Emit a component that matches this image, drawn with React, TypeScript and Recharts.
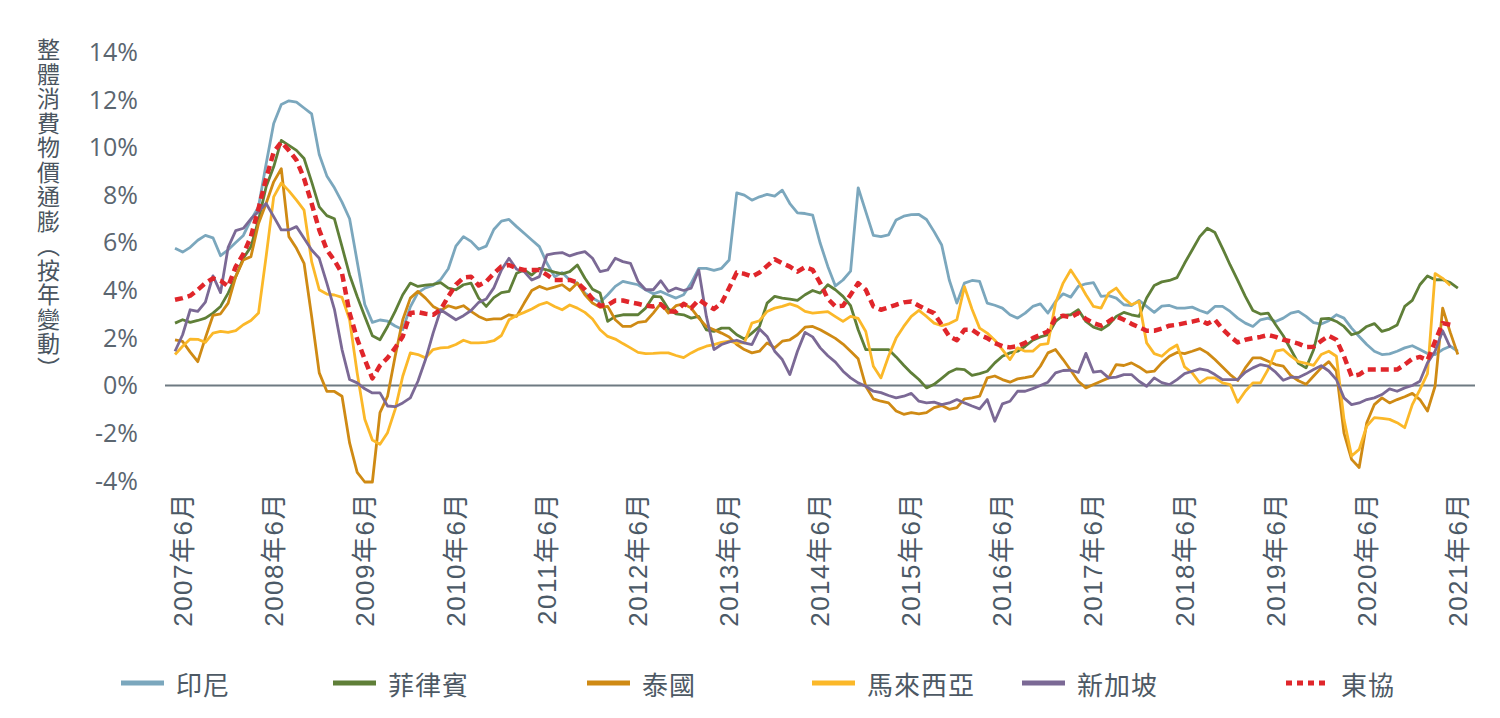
import React from "react";
import { LineChart, Line, XAxis, YAxis, ReferenceLine } from "recharts";

// monthly readings, first point = 2007年5月, last = 2021年6月 (170 months)
const tickIndex = [1, 13, 25, 37, 49, 61, 73, 85, 97, 109, 121, 133, 145, 157, 169];
const tickLabels = [
  "2007年6月", "2008年6月", "2009年6月", "2010年6月", "2011年6月",
  "2012年6月", "2013年6月", "2014年6月", "2015年6月", "2016年6月",
  "2017年6月", "2018年6月", "2019年6月", "2020年6月", "2021年6月",
];
const yTicks = [-4, -2, 0, 2, 4, 6, 8, 10, 12, 14];
const yTitle = "整體消費物價通膨（按年變動）";

const indonesia = [
  5.76, 5.6, 5.8, 6.1, 6.3, 6.2, 5.45, 5.7, 6.0, 6.3,
  6.95, 7.5, 9.3, 11.0, 11.8, 11.95, 11.9, 11.65, 11.4, 9.7,
  8.8, 8.3, 7.7, 7.0, 5.2, 3.4, 2.65, 2.75, 2.7, 2.5,
  2.35, 3.3, 3.9, 4.1, 4.2, 4.45, 4.9, 5.85, 6.25, 6.05,
  5.72, 5.85, 6.55, 6.9, 6.97, 6.67, 6.39, 6.11, 5.83, 5.13,
  4.57, 4.74, 4.43, 4.3, 3.88, 3.67, 3.49, 3.81, 4.16, 4.37,
  4.3, 4.23, 4.02, 3.85, 3.95, 3.8, 3.67, 3.81, 4.3, 4.92,
  4.92, 4.83, 4.92, 5.27, 8.09, 7.99, 7.78, 7.92, 8.02, 7.95,
  8.2, 7.64, 7.25, 7.22, 7.15, 5.97, 5.0, 4.18, 4.43, 4.8,
  8.3, 7.3, 6.3, 6.25, 6.32, 6.95, 7.11, 7.17, 7.18, 6.97,
  6.46, 5.9, 4.43, 3.46, 4.3, 4.41, 4.37, 3.46, 3.37, 3.25,
  2.97, 2.83, 3.04, 3.32, 3.43, 3.04, 3.53, 3.85, 3.71, 4.16,
  4.27, 4.32, 3.74, 3.77, 3.67, 3.39, 3.35, 3.57, 3.32, 3.07,
  3.33, 3.36, 3.25, 3.25, 3.29, 3.15, 3.04, 3.32, 3.32, 3.11,
  2.83, 2.62, 2.48, 2.76, 2.83, 2.69, 2.83, 3.04, 3.11, 2.9,
  2.64, 2.58, 2.72, 2.97, 2.83, 2.41, 2.06, 1.72, 1.44, 1.3,
  1.33, 1.44, 1.58, 1.67, 1.51, 1.34, 1.3, 1.51, 1.65, 1.44,
];

const philippines = [
  2.62, 2.76, 2.65, 2.73, 2.83, 3.04, 3.32, 3.88, 4.57, 5.34,
  5.83, 6.95, 8.34, 9.18, 10.29, 10.08, 9.87, 9.53, 8.55, 7.5,
  7.13, 7.0, 5.83, 4.64, 3.74, 2.9, 2.09, 1.92, 2.48, 3.11,
  3.81, 4.3, 4.16, 4.21, 4.25, 4.32, 4.09, 4.02, 4.23, 4.3,
  3.67, 3.32, 3.69, 3.9, 3.95, 4.71, 4.85, 4.64, 4.92, 4.85,
  4.76, 4.69, 4.78, 5.06, 4.5, 4.04, 3.88, 2.69, 2.9, 2.97,
  2.97, 2.97, 3.25, 3.74, 3.72, 3.21, 3.01, 2.97, 2.83, 2.9,
  2.34, 2.27, 2.41, 2.41, 2.13, 1.95, 2.2, 2.48, 3.46, 3.74,
  3.67, 3.63, 3.57, 3.81, 3.99, 3.88, 4.23, 4.02, 3.74, 3.35,
  2.34, 1.51, 1.51, 1.51, 1.51, 1.2, 0.85, 0.53, 0.25, -0.1,
  0.05, 0.3, 0.56, 0.7, 0.67, 0.43, 0.5, 0.6, 0.95, 1.23,
  1.37, 1.44, 1.65, 1.9, 2.04, 2.13, 2.69, 2.94, 2.97, 3.18,
  2.69, 2.45, 2.34, 2.55, 2.9, 3.07, 2.97, 2.9, 3.67, 4.2,
  4.35, 4.41, 4.53, 5.13, 5.69, 6.25, 6.6, 6.42, 5.76, 5.06,
  4.41, 3.74, 3.15, 3.0, 3.04, 2.55, 2.09, 1.51, 0.93, 0.74,
  1.5, 2.8, 2.82, 2.69, 2.48, 2.13, 2.23, 2.48, 2.6, 2.27,
  2.37, 2.54, 3.32, 3.57, 4.23, 4.6, 4.44, 4.44, 4.32, 4.09,
];

const thailand = [
  1.92, 1.85, 1.4, 1.0, 2.0, 2.94, 3.01, 3.46, 4.57, 5.27,
  5.41, 6.8, 7.64, 8.55, 9.1, 6.25, 5.76, 5.13, 2.9, 0.53,
  -0.24, -0.25, -0.45, -2.41, -3.65, -4.05, -4.05, -1.14, -0.45, 1.23,
  2.76, 3.67, 3.95, 3.67, 3.32, 3.15, 3.35, 3.25, 3.35, 3.11,
  2.9, 2.76, 2.8, 2.8, 2.97, 2.9, 3.46, 3.99, 4.16, 4.04,
  4.13, 4.23, 3.99, 4.3, 3.81, 3.46, 3.28, 3.32, 2.76, 2.48,
  2.48, 2.65, 2.69, 3.04, 3.45, 3.04, 3.35, 3.43, 3.25, 2.83,
  2.48, 2.34, 2.2, 2.04, 1.72, 1.51, 1.37, 1.44, 1.79, 1.58,
  1.86, 1.92, 2.13, 2.45, 2.48, 2.34, 2.16, 1.98, 1.74, 1.44,
  1.12, -0.03, -0.56, -0.66, -0.73, -1.07, -1.21, -1.14, -1.19, -1.14,
  -0.93, -0.84, -1.0, -0.93, -0.56, -0.52, -0.45, 0.32, 0.4, 0.25,
  0.14, 0.28, 0.33, 0.39, 0.81, 1.37, 1.51, 1.09, 0.64, 0.18,
  -0.1, 0.04, 0.18, 0.32, 0.88, 0.84, 0.95, 0.78, 0.56, 0.6,
  0.95, 1.23, 1.39, 1.34, 1.44, 1.55, 1.37, 1.09, 0.78, 0.46,
  0.21, 0.74, 1.16, 1.16, 1.02, 0.88, 0.81, 0.42, 0.2, 0.05,
  0.4, 0.74, 1.0, 0.6, -2.0, -3.1, -3.44, -1.56, -0.8, -0.52,
  -0.73, -0.59, -0.47, -0.33, -0.59, -1.07, -0.03, 3.25, 2.23, 1.3,
];

const malaysia = [
  1.3, 1.65, 1.95, 1.94, 1.81, 2.2, 2.27, 2.23, 2.3, 2.55,
  2.73, 3.04, 5.41, 7.92, 8.5, 8.17, 7.78, 7.36, 5.2, 4.02,
  3.84, 3.8, 3.7, 2.76, 0.52, -1.42, -2.29, -2.47, -1.98, -1.0,
  0.39, 1.37, 1.3, 1.16, 1.51, 1.58, 1.6, 1.72, 1.9, 1.79,
  1.79, 1.81, 1.88, 2.1, 2.76, 2.94, 3.07, 3.21, 3.39, 3.49,
  3.32, 3.18, 3.38, 3.25, 3.07, 2.79, 2.34, 2.06, 1.95, 1.76,
  1.58, 1.39, 1.34, 1.35, 1.37, 1.37, 1.26, 1.17, 1.37, 1.53,
  1.65, 1.72, 1.81, 1.86, 1.79, 1.79, 2.62, 2.72, 3.11, 3.25,
  3.32, 3.43, 3.32, 3.11, 3.04, 3.07, 3.1, 2.89, 2.69, 2.9,
  2.82, 2.27, 0.81, 0.32, 1.23, 1.99, 2.48, 2.9, 3.15, 2.9,
  2.62, 2.51, 2.6, 2.76, 4.15, 3.2, 2.41, 2.2, 1.9, 1.51,
  1.09, 1.58, 1.44, 1.44, 1.72, 1.76, 3.46, 4.3, 4.85, 4.37,
  3.81, 3.32, 3.25, 3.88, 4.09, 3.67, 3.39, 3.53, 1.79, 1.34,
  1.23, 1.51, 1.7, 0.78, 0.53, 0.11, 0.32, 0.32, 0.11, 0.04,
  -0.7, -0.24, 0.11, 0.11, 0.67, 1.44, 1.51, 1.23, 1.0, 0.93,
  0.85, 1.3, 1.44, 1.23, -1.42, -2.96, -2.68, -1.7, -1.35, -1.38,
  -1.42, -1.56, -1.77, -0.8, -0.17, 0.5, 4.7, 4.5, 4.2, null,
];

const singapore = [
  1.44, 2.13, 3.18, 3.11, 3.5, 4.6, 3.9, 5.8, 6.5, 6.6,
  7.0, 7.3, 7.64, 7.09, 6.53, 6.53, 6.67, 6.18, 5.69, 5.34,
  4.3, 3.2, 1.51, 0.25, 0.11, -0.14, -0.31, -0.31, -0.86, -0.89,
  -0.73, -0.52, 0.18, 1.09, 2.2, 3.18, 2.97, 2.76, 2.93, 3.15,
  3.49, 3.63, 4.1, 4.85, 5.34, 4.88, 4.78, 4.43, 4.57, 5.48,
  5.55, 5.58, 5.44, 5.55, 5.62, 5.34, 4.78, 4.85, 5.34, 5.2,
  5.13, 4.37, 4.02, 4.02, 4.4, 3.95, 4.09, 3.99, 4.09, 4.85,
  2.9, 1.51, 1.72, 1.83, 1.9, 1.79, 1.72, 2.37, 2.06, 1.44,
  1.09, 0.46, 1.44, 2.23, 2.04, 1.58, 1.25, 0.98, 0.6, 0.32,
  0.11, -0.03, -0.24, -0.3, -0.42, -0.52, -0.45, -0.33, -0.66, -0.73,
  -0.7, -0.8, -0.73, -0.59, -0.73, -0.86, -0.98, -0.59, -1.5, -0.77,
  -0.66, -0.24, -0.24, -0.13, 0.0, 0.14, 0.53, 0.63, 0.64, 0.55,
  1.35, 0.56, 0.6, 0.32, 0.35, 0.46, 0.46, 0.18, -0.03, 0.32,
  0.12, 0.04, 0.25, 0.5, 0.6, 0.7, 0.64, 0.46, 0.25, 0.25,
  0.25, 0.56, 0.74, 0.88, 0.81, 0.56, 0.22, 0.35, 0.34, 0.49,
  0.67, 0.83, 0.61, 0.25, -0.52, -0.8, -0.73, -0.59, -0.52, -0.38,
  -0.14, -0.24, -0.1, 0.0, 0.18, 0.95, 1.44, 2.3, 1.6, null,
];

const asean = [
  3.6, 3.67, 3.77, 4.02, 4.3, 4.5, 4.4, 4.16, 4.99, 5.52,
  6.25, 7.43, 8.69, 9.8, 10.22, 9.87, 9.46, 8.69, 7.64, 6.53,
  5.69, 5.25, 4.71, 3.04, 1.95, 1.09, 0.3, 0.84, 1.16, 1.58,
  2.06, 3.04, 3.08, 3.01, 2.97, 3.18, 3.74, 4.23, 4.53, 4.57,
  4.2, 4.37, 4.7, 5.0, 5.06, 4.92, 4.85, 4.85, 4.85, 4.64,
  4.43, 4.43, 4.43, 4.32, 4.02, 3.63, 3.35, 3.38, 3.57, 3.57,
  3.49, 3.43, 3.35, 3.32, 3.41, 3.11, 3.11, 3.43, 3.25, 3.6,
  3.39, 3.21, 3.46, 4.09, 4.74, 4.69, 4.57, 4.74, 5.02, 5.3,
  5.13, 4.99, 4.78, 4.97, 4.85, 4.3, 3.64, 3.32, 3.35, 3.81,
  4.3, 4.02, 3.32, 3.18, 3.28, 3.39, 3.49, 3.53, 3.35, 3.18,
  3.04, 2.55, 2.06, 1.9, 2.34, 2.34, 2.13, 1.99, 1.78, 1.65,
  1.6, 1.65, 1.79, 1.99, 2.13, 2.27, 2.83, 2.93, 2.86, 3.04,
  2.79, 2.62, 2.51, 2.69, 2.9, 2.76, 2.59, 2.45, 2.3, 2.3,
  2.39, 2.51, 2.55, 2.62, 2.68, 2.76, 2.59, 2.76, 2.37, 2.06,
  1.81, 1.92, 1.99, 2.04, 2.12, 2.04, 1.92, 1.85, 1.76, 1.62,
  1.63, 1.87, 2.08, 1.92, 1.23, 0.39, 0.46, 0.67, 0.67, 0.67,
  0.67, 0.67, 0.88, 1.12, 1.2, 1.06, 1.85, 2.62, 2.55, null,
];

const series = [
  { key: "idn", name: "印尼", color: "#7ba7bd", values: indonesia },
  { key: "phl", name: "菲律賓", color: "#5f7f38", values: philippines },
  { key: "tha", name: "泰國", color: "#cf8a14", values: thailand },
  { key: "mys", name: "馬來西亞", color: "#fbb829", values: malaysia },
  { key: "sgp", name: "新加坡", color: "#7b6995", values: singapore },
  { key: "asean", name: "東協", color: "#e0262b", values: asean, dashed: true },
];

const data = indonesia.map((_, i) => {
  const row: Record<string, number | null> = { idx: i };
  series.forEach((s) => (row[s.key] = s.values[i]));
  return row;
});

const legendLeft = [113, 325, 579, 804, 1014, 1278];

const XTick = ({ x, y, payload }: any) => {
  const label = tickLabels[tickIndex.indexOf(payload.value)];
  return (
    <text
      x={x}
      y={y}
      transform={`rotate(-90 ${x} ${y})`}
      textAnchor="end"
      dominantBaseline="central"
      fill="#4b5966"
      fontSize={26}
      letterSpacing={1.5}
      fontFamily="'Liberation Sans', 'Noto Sans CJK TC', sans-serif"
    >
      {label}
    </text>
  );
};

export default function App() {
  return (
    <div style={{ position: "relative", width: 1484, height: 700, background: "#fff" }}>
      <div
        style={{
          position: "absolute",
          left: 26,
          top: 30,
          writingMode: "vertical-rl",
          textSpacingTrim: "space-all",
          fontFamily: "'Noto Sans CJK TC', sans-serif",
          fontSize: 23,
          letterSpacing: 1.5,
          lineHeight: 1.2,
          color: "#4a5560",
        } as React.CSSProperties}
      >
        {yTitle}
      </div>

      <LineChart
        width={1484}
        height={650}
        data={data}
        margin={{ top: 44, right: 17, bottom: 0, left: 57 }}
      >
        <XAxis
          type="number"
          dataKey="idx"
          domain={[-1.32, 171.26]}
          ticks={tickIndex}
          interval={0}
          axisLine={false}
          tickLine={false}
          tickSize={0}
          tickMargin={10}
          height={176}
          tick={<XTick />}
        />
        <YAxis
          domain={[-4, 14]}
          ticks={yTicks}
          interval={0}
          axisLine={false}
          tickLine={false}
          tickSize={0}
          tickMargin={27}
          width={100}
          tickFormatter={(v: number) => `${v}%`}
          tick={{ fill: "#5b6670", fontSize: 25, fontFamily: "'Open Sans', sans-serif" }}
        />
        <ReferenceLine y={0} stroke="#6e7a82" strokeWidth={2.2} />
        {series.map((s) => (
          <Line
            key={s.key}
            dataKey={s.key}
            type="linear"
            stroke={s.color}
            strokeWidth={s.dashed ? 4.5 : 2.8}
            strokeDasharray={s.dashed ? "8 5" : undefined}
            strokeLinejoin="round"
            dot={false}
            activeDot={false}
            isAnimationActive={false}
          />
        ))}
      </LineChart>

      {series.map((s, i) => (
        <div
          key={s.key}
          style={{
            position: "absolute",
            left: legendLeft[i],
            top: 658,
            height: 34,
            display: "flex",
            alignItems: "center",
            fontFamily: "'Noto Sans CJK TC', sans-serif",
            fontSize: 26,
            letterSpacing: 1,
            color: "#4d5964",
          }}
        >
          <svg width={43} height={8} style={{ marginRight: 12 }}>
            <line
              x1={0}
              y1={4}
              x2={43}
              y2={4}
              stroke={s.color}
              strokeWidth={5}
              strokeDasharray={s.dashed ? "6 5" : undefined}
            />
          </svg>
          {s.name}
        </div>
      ))}
    </div>
  );
}
